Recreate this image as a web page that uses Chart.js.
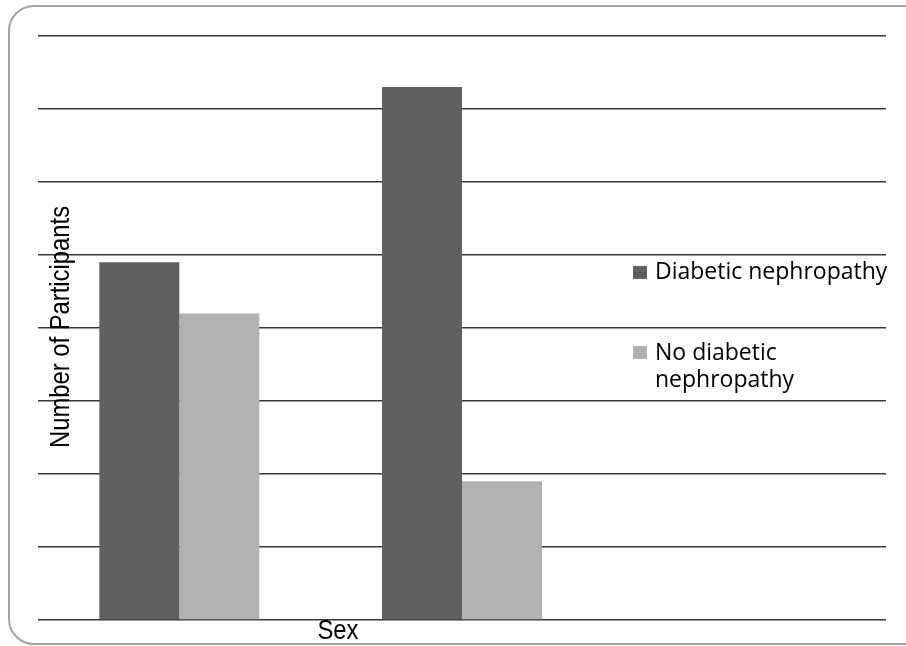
<!DOCTYPE html>
<html>
<head>
<meta charset="utf-8">
<title>Number of Participants by Sex</title>
<script src="https://cdn.jsdelivr.net/npm/chart.js@4"></script>
<style>
  html, body { margin: 0; padding: 0; background: #fff; overflow: hidden; }
  #wrap { position: relative; width: 906px; height: 646px; }
  #frame {
    position: absolute; left: 8px; top: 5px;
    width: 930px; height: 636px;
    border: 2px solid #a3a3a3; border-radius: 26px;
  }
  #chart { position: absolute; left: 0; top: 0; }
</style>
</head>
<body>
<div id="wrap">
  <div id="frame"></div>
  <canvas id="chart" width="906" height="646"></canvas>
</div>
<script>
// categories (third slot is left empty, the legend sits there)
const categories = ['Male', 'Female', ''];
const seriesNames = ['Diabetic nephropathy', 'No diabetic nephropathy'];
const diabetic = [49, 73, null];
const noDiabetic = [42, 19, null];
const yMax = 80;
const yStep = 10;

const darkGrey = '#606060';
const lightGrey = '#b2b2b2';

// axis titles and the legend are painted by hand so they can be placed freely
const decorations = {
  id: 'decorations',
  afterDraw(chart) {
    const ctx = chart.ctx;
    const area = chart.chartArea;
    ctx.save();
    ctx.fillStyle = '#000';

    // y title, rotated, slightly narrow letters
    ctx.font = '28px "Liberation Sans", Arial, sans-serif';
    ctx.textAlign = 'center';
    ctx.textBaseline = 'alphabetic';
    ctx.save();
    ctx.translate(area.left + 31, (area.top + area.bottom) / 2 - 1);
    ctx.rotate(-Math.PI / 2);
    ctx.scale(0.85, 1);
    ctx.fillText('Number of Participants', 0, 0);
    ctx.restore();

    // x title
    ctx.save();
    ctx.translate(area.left + 300, area.bottom + 19);
    ctx.scale(0.85, 1);
    ctx.fillText('Sex', 0, 0);
    ctx.restore();

    // legend
    const lx = area.right - 253;
    ctx.font = '23px "Open Sans", sans-serif';
    ctx.textAlign = 'left';
    ctx.fillStyle = darkGrey;
    ctx.fillRect(lx, 266, 14, 13);
    ctx.fillStyle = lightGrey;
    ctx.fillRect(lx, 346, 14, 13);
    ctx.fillStyle = '#000';
    ctx.fillText('Diabetic nephropathy', lx + 22, 279);
    ctx.fillText('No diabetic', lx + 22, 360);
    ctx.fillText('nephropathy', lx + 22, 387);
    ctx.restore();
  }
};

const ctx = document.getElementById('chart').getContext('2d');
new Chart(ctx, {
  type: 'bar',
  data: {
    labels: categories,
    datasets: [
      {
        label: seriesNames[0],
        data: diabetic,
        backgroundColor: darkGrey,
        borderWidth: 0,
        barPercentage: 1,
        categoryPercentage: 0.566
      },
      {
        label: seriesNames[1],
        data: noDiabetic,
        backgroundColor: lightGrey,
        borderWidth: 0,
        barPercentage: 1,
        categoryPercentage: 0.566
      }
    ]
  },
  options: {
    responsive: false,
    animation: false,
    layout: { padding: { left: 38, right: 20, top: 36, bottom: 18 } },
    plugins: {
      legend: { display: false },
      tooltip: { enabled: false }
    },
    scales: {
      x: {
        grid: { display: false },
        border: { display: false },
        ticks: { display: false }
      },
      y: {
        min: 0,
        max: yMax,
        ticks: { display: false, stepSize: yStep },
        border: { display: false },
        grid: { color: '#383838', lineWidth: 1.5, drawTicks: false }
      }
    }
  },
  plugins: [decorations]
});
</script>
</body>
</html>
